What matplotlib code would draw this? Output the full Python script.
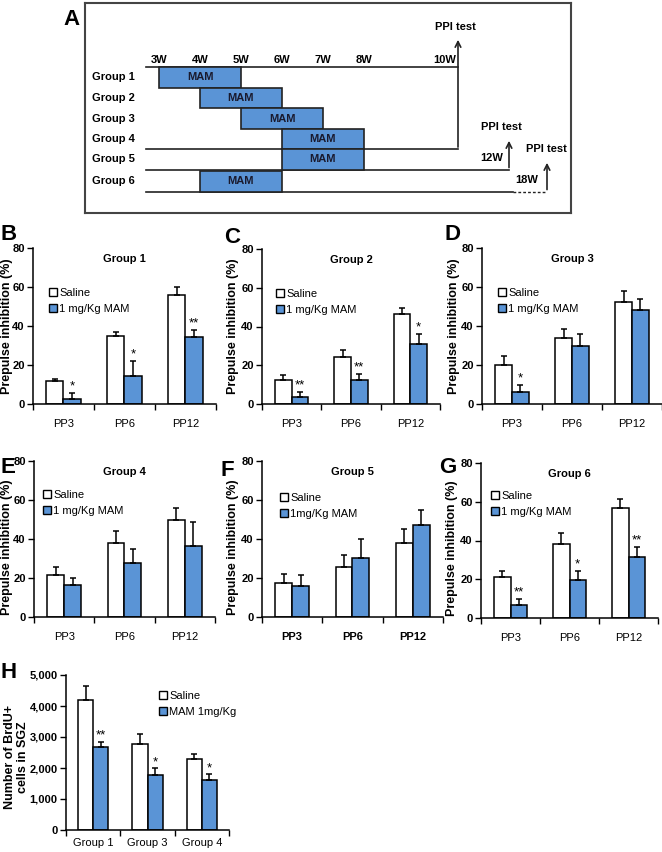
import matplotlib
matplotlib.use('Agg')
import matplotlib.pyplot as plt
import numpy as np
from matplotlib.patches import Patch
from matplotlib.ticker import StrMethodFormatter

plt.rcParams['font.family'] = ['Liberation Sans', 'DejaVu Sans']

W, H = 662, 852
BLUE = '#5a94d6'

# ---- panel A: treatment schedule ----
group_names = ['Group 1', 'Group 2', 'Group 3', 'Group 4', 'Group 5', 'Group 6']
mam_start = [3, 4, 5, 6, 6, 4]
mam_end = [5, 6, 7, 8, 8, 6]
week_ticks = [3, 4, 5, 6, 7, 8]
test_weeks = [10, 12, 18]

# ---- panels B-G: prepulse inhibition ----
pp_labels = ['PP3', 'PP6', 'PP12']

saline_g1 = [11.9, 34.7, 56.1]
saline_g1_err = [1.0, 2.2, 3.7]
mam_g1 = [2.4, 14.4, 34.2]
mam_g1_err = [3.1, 7.5, 3.7]
stars_g1 = ['*', '*', '**']

saline_g2 = [12.2, 24.0, 46.4]
saline_g2_err = [2.9, 3.8, 3.4]
mam_g2 = [3.6, 12.5, 31.1]
mam_g2_err = [2.4, 3.0, 5.1]
stars_g2 = ['**', '**', '*']

saline_g3 = [20.1, 33.8, 52.4]
saline_g3_err = [4.4, 4.5, 5.6]
mam_g3 = [6.0, 29.9, 48.4]
mam_g3_err = [3.8, 5.8, 5.5]
stars_g3 = ['*', '', '']

saline_g4 = [21.7, 37.9, 50.0]
saline_g4_err = [3.9, 6.3, 6.1]
mam_g4 = [16.6, 27.5, 36.5]
mam_g4_err = [3.4, 7.5, 12.0]
stars_g4 = ['', '', '']

saline_g5 = [17.4, 25.4, 38.2]
saline_g5_err = [4.8, 6.5, 7.0]
mam_g5 = [15.7, 30.5, 47.3]
mam_g5_err = [5.8, 9.4, 7.5]
stars_g5 = ['', '', '']

saline_g6 = [21.0, 38.2, 56.6]
saline_g6_err = [3.4, 5.7, 4.8]
mam_g6 = [6.9, 19.4, 31.5]
mam_g6_err = [3.1, 4.7, 5.3]
stars_g6 = ['**', '*', '**']

# ---- panel H: BrdU+ cells ----
brdu_groups = ['Group 1', 'Group 3', 'Group 4']
brdu_saline = [4194, 2763, 2301]
brdu_saline_err = [462, 323, 161]
brdu_mam = [2688, 1774, 1613]
brdu_mam_err = [161, 215, 183]
brdu_stars = ['**', '*', '*']


def px_axes(left, top, right, bottom):
    # axes from pixel box of the reference
    return fig.add_axes([left / W, 1 - bottom / H, (right - left) / W, (bottom - top) / H])


def letter(x, y, s):
    fig.text(x / W, 1 - y / H, s, fontsize=16, fontweight='bold', va='baseline')


def bar_panel(ax, cats, sal, sal_err, mam, mam_err, stars, ymax, star_off,
              leg_xy, leg_labels, bold_x=False, xpad=11):
    x = np.arange(len(cats))
    w = 0.28
    ax.bar(x - w / 2, sal, w, color='white', edgecolor='black', linewidth=1.1,
           yerr=[np.zeros(len(sal)), sal_err], capsize=2.5,
           error_kw=dict(elinewidth=1.1, capthick=1.1), zorder=2)
    ax.bar(x + w / 2, mam, w, color=BLUE, edgecolor='black', linewidth=1.1,
           yerr=[np.zeros(len(mam)), mam_err], capsize=2.5,
           error_kw=dict(elinewidth=1.1, capthick=1.1), zorder=2)
    for xi, m, e, s in zip(x, mam, mam_err, stars):
        if s:
            ax.text(xi + w / 2, m + e + star_off, s, ha='center', va='bottom',
                    fontsize=9.5)
    ax.set_xlim(-0.5, len(cats) - 0.5)
    ax.set_ylim(0, ymax)
    ax.set_xticks(x)
    ax.set_xticklabels(cats, fontsize=8, fontweight='bold' if bold_x else 'normal')
    ax.set_xticks(np.arange(len(cats) + 1) - 0.5, minor=True)
    ax.tick_params(axis='x', which='major', length=0, pad=xpad)
    ax.tick_params(axis='x', which='minor', length=4, direction='out', width=1)
    ax.tick_params(axis='y', length=4, direction='out', width=1, labelsize=8, pad=2)
    for sp in ['top', 'right']:
        ax.spines[sp].set_visible(False)
    for sp in ['left', 'bottom']:
        ax.spines[sp].set_linewidth(1.1)
    handles = [Patch(facecolor='white', edgecolor='black', linewidth=1),
               Patch(facecolor=BLUE, edgecolor='black', linewidth=1)]
    ax.legend(handles, leg_labels, loc='upper left',
              bbox_to_anchor=(leg_xy[0] / W, 1 - leg_xy[1] / H),
              bbox_transform=fig.transFigure, frameon=False, fontsize=8,
              handlelength=0.7, handleheight=0.7, handletextpad=0.2,
              borderpad=0, borderaxespad=0, labelspacing=0.55)


fig = plt.figure(figsize=(W / 100, H / 100), dpi=100)

# ---------- A ----------
axA = px_axes(85, 3, 571, 213)
axA.set_xlim(85, 571)
axA.set_ylim(213, 3)
axA.set_xticks([])
axA.set_yticks([])
for sp in axA.spines.values():
    sp.set_color('#444444')
    sp.set_linewidth(1.5)

# schematic week -> x mapping (time axis is broken after 8W)
wk_anchor = [3, 8, 10, 12, 18]
px_anchor = [159, 364, 458, 509, 547]


def wx(week):
    return np.interp(week, wk_anchor, px_anchor)


row_y = [77.5, 98.0, 118.5, 139.0, 159.5, 181.5]
row_h = 20.5
for i, name in enumerate(group_names):
    axA.text(92, row_y[i], name, fontsize=8, fontweight='bold', va='center', ha='left')
    x0, x1 = wx(mam_start[i]), wx(mam_end[i])
    axA.add_patch(plt.Rectangle((x0, row_y[i] - row_h / 2), x1 - x0, row_h,
                                facecolor=BLUE, edgecolor='#222222', linewidth=1.2, zorder=2))
    axA.text((x0 + x1) / 2, row_y[i], 'MAM', fontsize=8, fontweight='bold',
             ha='center', va='center', color='#1a1a2e', zorder=3)
for wk in week_ticks:
    axA.text(wx(wk), 60, f'{wk}W', fontsize=8, fontweight='bold', ha='center', va='center')

line_kw = dict(color='#222222', linewidth=1.2, zorder=1)
top_line = row_y[0] - row_h / 2
g4_line = row_y[3] + row_h / 2
g5_line = row_y[4] + row_h / 2
g6_line = row_y[5] + row_h / 2
x10, x12, x18 = wx(test_weeks[0]), wx(test_weeks[1]), wx(test_weeks[2])
axA.plot([146, x10], [top_line, top_line], **line_kw)
axA.plot([146, x10], [g4_line, g4_line], **line_kw)
axA.plot([146, x12], [g5_line, g5_line], **line_kw)
axA.plot([146, 513], [g6_line, g6_line], **line_kw)
axA.plot([513, x18], [g6_line, g6_line], color='#222222', linewidth=1.0, linestyle=(0, (2, 1.5)))
arrow_kw = dict(arrowstyle='->', color='#222222', lw=1.2, mutation_scale=10)
axA.annotate('', xy=(x10, 37), xytext=(x10, g4_line + 0.6), arrowprops=arrow_kw)
axA.annotate('', xy=(x12, 138), xytext=(x12, g5_line + 0.6), arrowprops=arrow_kw)
axA.annotate('', xy=(x18, 160), xytext=(x18, g6_line + 0.6), arrowprops=arrow_kw)
axA.text(x10 - 2, 60, f'{test_weeks[0]}W', fontsize=8, fontweight='bold', ha='right', va='center')
axA.text(x12 - 17, 158, f'{test_weeks[1]}W', fontsize=8, fontweight='bold', ha='center', va='center')
axA.text(x18 - 20, 180, f'{test_weeks[2]}W', fontsize=8, fontweight='bold', ha='center', va='center')
axA.text(x10 - 3, 27, 'PPI test', fontsize=8, fontweight='bold', ha='center', va='center')
axA.text(x12 - 8, 127, 'PPI test', fontsize=8, fontweight='bold', ha='center', va='center')
axA.text(x18 - 1, 149, 'PPI test', fontsize=8, fontweight='bold', ha='center', va='center')
letter(63, 25, 'A')

# ---------- B-G ----------
leg_std = ['Saline', '1 mg/Kg MAM']
panels = [
    # letter, letter pos, box, title, data, legend pos, legend labels, bold x,
    # ylabel right edge (px), ylabel centre (axes frac)
    ('B', (0, 240), (33, 248, 216, 404), 'Group 1',
     (saline_g1, saline_g1_err, mam_g1, mam_g1_err, stars_g1), (49, 288), leg_std, False, 13, 0.5),
    ('C', (224, 243), (262, 249, 440, 404), 'Group 2',
     (saline_g2, saline_g2_err, mam_g2, mam_g2_err, stars_g2), (276, 289), leg_std, False, 239, 0.5),
    ('D', (444, 240), (482, 248, 662, 404), 'Group 3',
     (saline_g3, saline_g3_err, mam_g3, mam_g3_err, stars_g3), (498, 288), leg_std, False, 460, 0.5),
    ('E', (0, 473), (34, 461, 215, 617), 'Group 4',
     (saline_g4, saline_g4_err, mam_g4, mam_g4_err, stars_g4), (43, 490), leg_std, False, 13, 0.45),
    ('F', (221, 476), (262, 461, 443, 617), 'Group 5',
     (saline_g5, saline_g5_err, mam_g5, mam_g5_err, stars_g5), (280, 493),
     ['Saline', '1mg/Kg MAM'], True, 239, 0.45),
    ('G', (439, 473), (481, 463, 658, 618), 'Group 6',
     (saline_g6, saline_g6_err, mam_g6, mam_g6_err, stars_g6), (491, 491), leg_std, False, 458, 0.45),
]
for lt, lpos, box, title, d, legpos, leglab, bx, yl_px, yl_c in panels:
    ax = px_axes(*box)
    bar_panel(ax, pp_labels, *d, ymax=80, star_off=0.3, leg_xy=legpos,
              leg_labels=leglab, bold_x=bx)
    ax.set_yticks([0, 20, 40, 60, 80])
    for lab in ax.get_yticklabels():
        lab.set_fontweight('bold')
    ax.text(0.5, 0.93, title, transform=ax.transAxes, ha='center', va='center',
            fontsize=8, fontweight='bold')
    ax.set_ylabel('Prepulse inhibition (%)', fontsize=9, fontweight='bold')
    ax.yaxis.set_label_coords((yl_px - box[0]) / (box[2] - box[0]), yl_c)
    letter(lpos[0], lpos[1], lt)

# ---------- H ----------
axH = px_axes(66, 675, 229, 830)
bar_panel(axH, brdu_groups, brdu_saline, brdu_saline_err, brdu_mam, brdu_mam_err,
          brdu_stars, ymax=5000, star_off=10, leg_xy=(159, 691),
          leg_labels=['Saline', 'MAM 1mg/Kg'], xpad=6)
axH.set_yticks([0, 1000, 2000, 3000, 4000, 5000])
axH.yaxis.set_major_formatter(StrMethodFormatter('{x:,.0f}'))
for lab in axH.get_yticklabels():
    lab.set_fontweight('bold')
axH.set_ylabel('Number of BrdU+\ncells in SGZ', fontsize=9, fontweight='bold',
               linespacing=1.1)
axH.yaxis.set_label_coords((29 - 66) / 163, 0.47)
letter(1, 678, 'H')

fig.savefig('out.png', dpi=100)
